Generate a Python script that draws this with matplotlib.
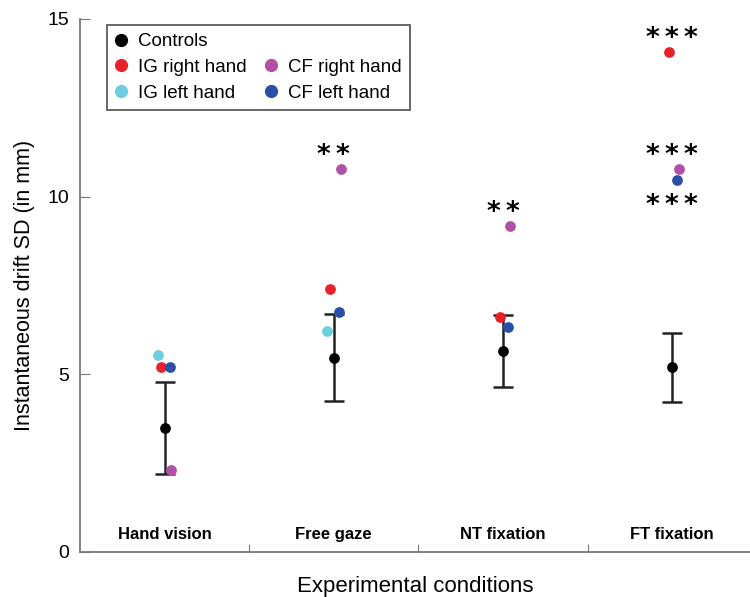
import matplotlib.pyplot as plt
from matplotlib.lines import Line2D
import numpy as np

plt.rcParams['font.family'] = ['Liberation Sans', 'DejaVu Sans']

conditions = ["Hand vision", "Free gaze", "NT fixation", "FT fixation"]

# controls: mean with error bar limits
ctrl_mean = [3.48, 5.47, 5.66, 5.21]
ctrl_low = [2.19, 4.26, 4.65, 4.23]
ctrl_high = [4.79, 6.70, 6.67, 6.17]

# individual patients (nan = not shown)
ig_right = [5.21, 7.40, 6.62, 14.07]
ig_left = [5.55, 6.22, np.nan, np.nan]
cf_right = [2.30, 10.77, 9.17, 10.77]
cf_left = [5.21, 6.76, 6.34, 10.48]

# significance stars: (condition index, y, number of stars)
stars = [(1, 11.13, 2), (2, 9.55, 2), (3, 14.45, 3), (3, 11.13, 3), (3, 9.73, 3)]

col_ctrl = "black"
col_ig_r = "#e8222b"
col_ig_l = "#6dcedf"
col_cf_r = "#b24fa6"
col_cf_l = "#2b4fa6"

fig = plt.figure(figsize=(7.5, 5.97), dpi=100)
ax = fig.add_axes([0.1067, 0.0754, 0.8933, 0.8928])

x = np.arange(1, 5)
ms = 60

ax.scatter(x - 0.04, ig_left, s=ms, color=col_ig_l, zorder=3, linewidths=0)
ax.scatter(x - 0.02, ig_right, s=ms, color=col_ig_r, zorder=3, linewidths=0)
ax.scatter(x + 0.03, cf_left, s=ms, color=col_cf_l, zorder=4, linewidths=0)
ax.scatter(x + 0.04, cf_right, s=ms, color=col_cf_r, zorder=3, linewidths=0)

m = np.array(ctrl_mean)
yerr = [m - np.array(ctrl_low), np.array(ctrl_high) - m]
ax.errorbar(x, m, yerr=yerr, fmt="none", ecolor="#222222", elinewidth=1.8,
            capsize=7, capthick=1.8, zorder=2)
ax.scatter(x, m, s=ms, color=col_ctrl, zorder=5, linewidths=0)

for i, y, n in stars:
    ax.text(x[i], y, "\u2009".join("*" * n), ha="center", va="center",
            fontsize=19, fontweight="bold", family="DejaVu Sans")

for i, name in enumerate(conditions):
    ax.text(x[i], 0.5, name, ha="center", va="center", fontsize=12,
            fontweight="bold")

ax.set_xlim(0.5, 4.46)
ax.set_ylim(0, 15)
ax.set_yticks([0, 5, 10, 15])
ax.set_xticks([1.5, 2.5, 3.5])
ax.set_xticklabels([])
ax.tick_params(axis="y", direction="in", length=7, color="#777777", labelsize=14, pad=8)
ax.tick_params(axis="x", direction="in", length=6, color="#777777")
for side in ["top", "right"]:
    ax.spines[side].set_visible(False)
for side in ["left", "bottom"]:
    ax.spines[side].set_color("#777777")
    ax.spines[side].set_linewidth(1.3)

ax.set_ylabel("Instantaneous drift SD (in mm)", fontsize=15.5, labelpad=9)
ax.set_xlabel("Experimental conditions", fontsize=16, labelpad=14)

def dot(c):
    return Line2D([], [], marker="o", linestyle="none", color=c, markersize=8.5)

blank = Line2D([], [], linestyle="none", marker="none")
handles = [dot(col_ctrl), dot(col_ig_r), dot(col_ig_l), blank, dot(col_cf_r), dot(col_cf_l)]
labels = ["Controls", "IG right hand", "IG left hand", "", "CF right hand", "CF left hand"]
leg = ax.legend(handles, labels, ncol=2, loc="upper left", bbox_to_anchor=(0.04, 0.989),
                borderaxespad=0, fontsize=13.5, frameon=True, fancybox=False,
                edgecolor="#333333", handlelength=0.6, handletextpad=0.6,
                columnspacing=1.0, labelspacing=0.45, borderpad=0.45)
leg.get_frame().set_linewidth(1.3)

fig.savefig("out.png", dpi=100)
